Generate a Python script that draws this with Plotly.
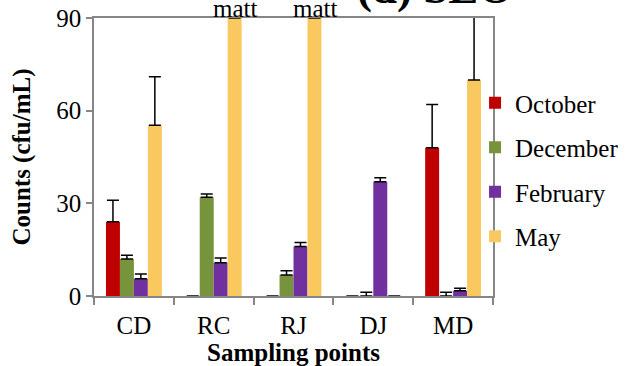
import plotly.graph_objects as go

categories = ["CD", "RC", "RJ", "DJ", "MD"]
series_names = ["October", "December", "February", "May"]
october = [24, 0, 0, 0, 48]
october_err = [7, 0, 0, 0, 14]
december = [12, 32, 6.8, 0, 0]
december_err = [1.2, 1, 1.4, 1.2, 1.2]
february = [5.6, 10.8, 16, 37, 1.7]
february_err = [1.5, 1.5, 1.3, 1.3, 0.8]
may = [55.3, 90, 90, 0, 69.9]
may_err = [15.7, 0, 0, 0, 30]
may_text = ["", "matt", "matt", "", ""]

colors = ["#C00000", "#77933C", "#7030A0", "#F9C85E"]
values = [october, december, february, may]
errs = [october_err, december_err, february_err, may_err]

FONT = "Liberation Serif, Times New Roman, serif"

fig = go.Figure()
for i, name in enumerate(series_names):
    fig.add_trace(go.Bar(
        x=categories, y=values[i], name=name,
        marker=dict(color=colors[i], line=dict(width=0)),
        error_y=dict(type="data", array=errs[i], symmetric=False, arrayminus=[0]*5,
                     color="black", thickness=1.5, width=6),
        legendgroup=name, cliponaxis=False))

# "matt" labels above the May bars (May bar is the 4th of the group)
for cat, val, txt in zip(categories, may, may_text):
    if txt:
        fig.add_annotation(text=txt, x=cat, y=val, xref="x", yref="y",
                           xanchor="center", yanchor="bottom", xshift=21, yshift=-6,
                           showarrow=False, font=dict(family=FONT, size=25, color="black"))

fig.update_layout(
    width=637, height=366,
    margin=dict(l=94, r=144, t=18, b=70, autoexpand=False),
    paper_bgcolor="white", plot_bgcolor="white",
    barmode="group", bargap=0.3, bargroupgap=0,
    font=dict(family=FONT, size=25, color="black"),
    showlegend=True,
    legend=dict(x=0.955, xanchor="left", y=0.455, yanchor="middle",
                font=dict(family=FONT, size=25), tracegroupgap=9,
                bgcolor="rgba(0,0,0,0)"),
)
fig.update_xaxes(
    automargin=False,
    showline=True, linecolor="#868686", linewidth=1.5, mirror=True,
    ticks="outside", tickson="boundaries", ticklen=7, tickcolor="#868686", tickwidth=1.5,
    tickfont=dict(family=FONT, size=25), ticklabelstandoff=6,
    title=dict(text="<b>Sampling points</b>", font=dict(family=FONT, size=25), standoff=0),
)
fig.update_yaxes(
    automargin=False, ticklabeloverflow="allow",
    range=[0, 90], tickvals=[0, 30, 60, 90], showgrid=False, zeroline=False,
    showline=True, linecolor="#868686", linewidth=1.5, mirror=True,
    ticks="outside", ticklen=6, tickcolor="#868686", tickwidth=1.5,
    tickfont=dict(family=FONT, size=25),
    title=dict(text="<b>Counts (cfu/mL)</b>", font=dict(family=FONT, size=25), standoff=19),
)
fig.add_annotation(text="<b>(d) SEO</b>", xref="paper", yref="paper",
                   x=0.855, y=1.0, xanchor="center", yanchor="bottom", yshift=3,
                   showarrow=False, font=dict(family=FONT, size=45, color="black"))

fig.write_html("out.html", config={"displayModeBar": False},
               post_script="document.body.style.margin='0';")
